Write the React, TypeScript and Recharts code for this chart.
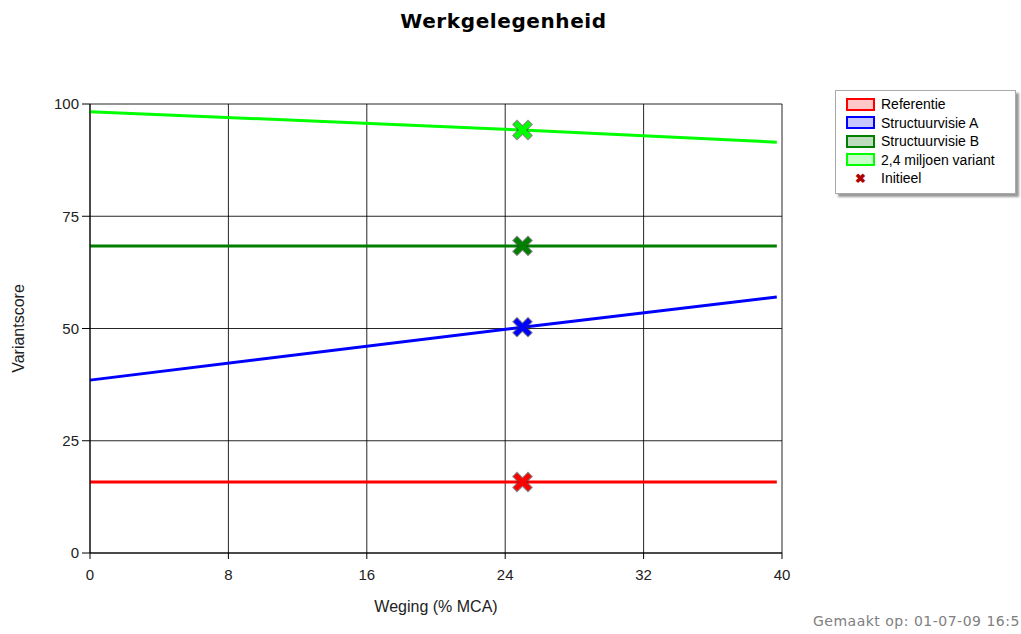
import {
  CartesianGrid,
  ComposedChart,
  Line,
  Scatter,
  XAxis,
  YAxis,
} from "recharts";

document.body.style.margin = "0";

const wegingen = [0, 25, 39.7];
const referentie = [15.8, 15.8, 15.8];
const structuurvisieA = [38.5, 50.3, 57.0];
const structuurvisieB = [68.4, 68.4, 68.4];
const miljoenVariant = [98.3, 94.2, 91.5];

const initieelWeging = 25;
const initieel = [15.8, 50.3, 68.4, 94.2];

const xTicks = [0, 8, 16, 24, 32, 40];
const yTicks = [0, 25, 50, 75, 100];

const seriesNames = ["Referentie", "Structuurvisie A", "Structuurvisie B", "2,4 miljoen variant"];
const seriesValues = [referentie, structuurvisieA, structuurvisieB, miljoenVariant];
const colors = ["#ff0000", "#0000ff", "#007f00", "#00ff00"];
const fills = ["#ffc8c8", "#c8c8ff", "#bfdcbf", "#c8ffc8"];

const lineData = seriesValues.map((vals) => wegingen.map((w, i) => ({ x: w, y: vals[i] })));
const markerData = initieel.map((v) => [{ x: initieelWeging, y: v }]);

const tickFont = { fontSize: 15, fill: "#222", fontFamily: "Liberation Sans, Arial, sans-serif" };

function Cross(props: any) {
  const { cx, cy, fill } = props;
  const r = 5.5;
  const d = `M${cx - r},${cy - r}L${cx + r},${cy + r}M${cx - r},${cy + r}L${cx + r},${cy - r}`;
  return (
    <g>
      <path d={d} stroke="#333" strokeOpacity={0.6} strokeWidth={7} strokeLinecap="square" />
      <path d={d} stroke={fill} strokeWidth={5} strokeLinecap="square" />
    </g>
  );
}

export default function App() {
  return (
    <div style={{ position: "relative", width: 1021, height: 634, overflow: "hidden", background: "#fff" }}>
      <div
        style={{
          position: "absolute",
          top: 9,
          left: 0,
          width: 1007,
          textAlign: "center",
          fontFamily: "DejaVu Sans, Verdana, sans-serif",
          fontWeight: "bold",
          fontSize: 20,
          letterSpacing: 0.6,
          color: "#000",
        }}
      >
        Werkgelegenheid
      </div>
      <div style={{ position: "absolute", top: 0, left: 0 }}>
        <ComposedChart width={1021} height={634} margin={{ top: 104, right: 239, bottom: 21, left: 0 }}>
          <CartesianGrid stroke="#000" strokeOpacity={0.85} />
          <XAxis
            type="number"
            dataKey="x"
            domain={[0, 40]}
            ticks={xTicks}
            height={60}
            tick={tickFont}
            tickSize={6}
            tickMargin={10}
            stroke="#000"
            label={{
              value: "Weging (% MCA)",
              position: "insideBottom",
              offset: 1,
              style: { ...tickFont, fontSize: 16 },
            }}
          />
          <YAxis
            type="number"
            dataKey="y"
            domain={[0, 100]}
            ticks={yTicks}
            width={90}
            tick={tickFont}
            tickSize={8}
            tickMargin={3}
            stroke="#000"
            label={{
              value: "Variantscore",
              angle: -90,
              position: "insideLeft",
              offset: 18,
              style: { ...tickFont, fontSize: 16, textAnchor: "middle" },
            }}
          />
          {lineData.map((d, i) => (
            <Line
              key={seriesNames[i]}
              data={d}
              dataKey="y"
              type="linear"
              stroke={colors[i]}
              strokeWidth={3}
              dot={false}
              isAnimationActive={false}
            />
          ))}
          {markerData.map((d, i) => (
            <Scatter key={i} data={d} fill={colors[i]} shape={<Cross />} isAnimationActive={false} />
          ))}
        </ComposedChart>
      </div>
      <div
        style={{
          position: "absolute",
          left: 835,
          top: 90,
          width: 181,
          height: 104,
          border: "1px solid #aaa",
          boxShadow: "3px 3px 2px #999",
          background: "#fff",
          fontFamily: "Liberation Sans, Arial, sans-serif",
          fontSize: 14,
          color: "#000",
          boxSizing: "border-box",
          paddingTop: 4,
        }}
      >
        {seriesNames.map((n, i) => (
          <div key={n} style={{ display: "flex", alignItems: "center", height: 18.5 }}>
            <span
              style={{
                display: "inline-block",
                marginLeft: 10,
                width: 25,
                height: 9,
                border: `2px solid ${colors[i]}`,
                background: fills[i],
              }}
            />
            <span style={{ marginLeft: 6 }}>{n}</span>
          </div>
        ))}
        <div style={{ display: "flex", alignItems: "center", height: 18.5 }}>
          <span style={{ display: "inline-block", width: 29, marginLeft: 10, textAlign: "center", color: "#b00000", fontWeight: "bold", fontSize: 13 }}>
            ✖
          </span>
          <span style={{ marginLeft: 6 }}>Initieel</span>
        </div>
      </div>
      <div
        style={{
          position: "absolute",
          left: 813,
          top: 613,
          whiteSpace: "nowrap",
          fontFamily: "DejaVu Sans, Verdana, sans-serif",
          fontSize: 14,
          letterSpacing: 0.5,
          color: "#808080",
        }}
      >
        Gemaakt op: 01-07-09 16:5
      </div>
    </div>
  );
}
